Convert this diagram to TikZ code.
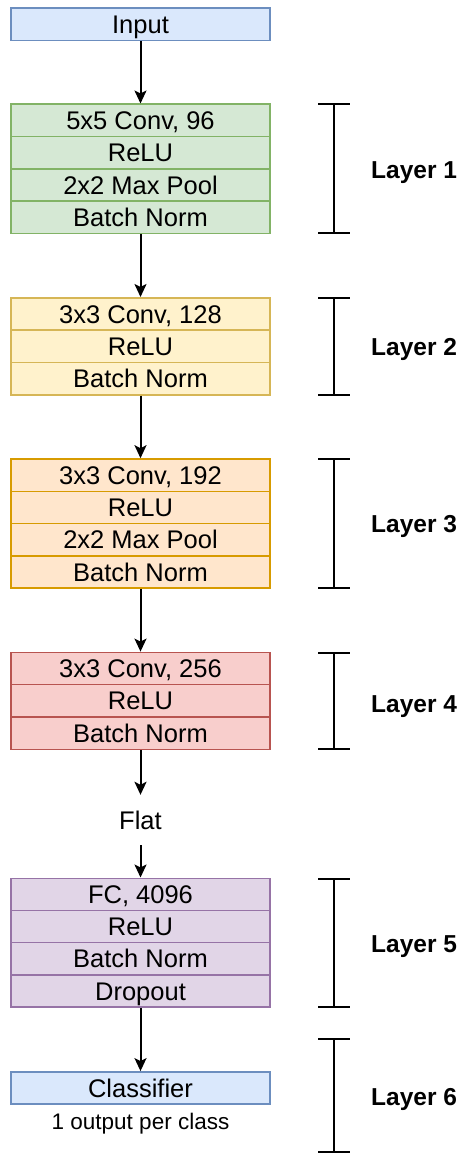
\documentclass[tikz,border=0pt]{standalone}
\usepackage{fontspec}
\setmainfont{Liberation Sans}
\usetikzlibrary{arrows.meta}
\definecolor{bluef}{HTML}{DAE8FC}\definecolor{blued}{HTML}{6C8EBF}
\definecolor{greenf}{HTML}{D5E8D4}\definecolor{greend}{HTML}{82B366}
\definecolor{yellowf}{HTML}{FFF2CC}\definecolor{yellowd}{HTML}{D6B656}
\definecolor{orangef}{HTML}{FFE6CC}\definecolor{oranged}{HTML}{D79B00}
\definecolor{redf}{HTML}{F8CECC}\definecolor{redd}{HTML}{B85450}
\definecolor{purplef}{HTML}{E1D5E7}\definecolor{purpled}{HTML}{9673A6}
\tikzset{
  txt/.style={font=\fontsize{25.5}{30}\selectfont, text height=18.2pt, text depth=0pt, inner sep=0pt},
  row/.style={txt, draw, line width=1.5pt, minimum width=259pt, minimum height=32.3pt},
  bluerow/.style={row, fill=bluef, draw=blued},
  greenrow/.style={row, fill=greenf, draw=greend},
  yellowrow/.style={row, fill=yellowf, draw=yellowd},
  orangerow/.style={row, fill=orangef, draw=oranged},
  redrow/.style={row, fill=redf, draw=redd},
  purplerow/.style={row, fill=purplef, draw=purpled},
  flow/.style={line width=2pt, -{Stealth[length=13pt,width=12pt,inset=3pt]}},
  brk/.style={line width=2pt},
  lay/.style={font=\fontsize{24.5}{29}\selectfont\bfseries, text height=17.6pt, text depth=0pt, inner sep=0pt, anchor=west},
}
\begin{document}
\begin{tikzpicture}[x=1pt,y=-1pt]
\useasboundingbox (0,0) rectangle (462,1153);
% nodes
\node[bluerow] (in) at (140.5,24.3) {Input};
\node[greenrow] (l1a) at (140.5,120.4) {5x5 Conv, 96};
\node[greenrow] (l1b) at (140.5,152.7) {ReLU};
\node[greenrow] (l1c) at (140.5,184.9) {2x2 Max Pool};
\node[greenrow] (l1d) at (140.5,217.2) {Batch Norm};
\node[yellowrow] (l2a) at (140.5,313.9) {3x3 Conv, 128};
\node[yellowrow] (l2b) at (140.5,346.3) {ReLU};
\node[yellowrow] (l2c) at (140.5,378.8) {Batch Norm};
\node[orangerow] (l3a) at (140.5,475.1) {3x3 Conv, 192};
\node[orangerow] (l3b) at (140.5,507.4) {ReLU};
\node[orangerow] (l3c) at (140.5,539.6) {2x2 Max Pool};
\node[orangerow] (l3d) at (140.5,571.9) {Batch Norm};
\node[redrow] (l4a) at (140.5,668.5) {3x3 Conv, 256};
\node[redrow] (l4b) at (140.5,700.8) {ReLU};
\node[redrow] (l4c) at (140.5,733.2) {Batch Norm};
\node[txt, minimum height=50pt] (flat) at (140.5,820) {Flat};
\node[purplerow] (l5a) at (140.5,894.4) {FC, 4096};
\node[purplerow] (l5b) at (140.5,926.6) {ReLU};
\node[purplerow] (l5c) at (140.5,958.8) {Batch Norm};
\node[purplerow] (l5d) at (140.5,990.9) {Dropout};
\node[bluerow] (cls) at (140.5,1088) {Classifier};
\node[txt, font=\fontsize{22.5}{27}\selectfont, text height=16pt] (outp) at (140.5,1121.7) {1 output per class};
% arrows
\draw[flow] (in.south) -- (l1a.north);
\draw[flow] (l1d.south) -- (l2a.north);
\draw[flow] (l2c.south) -- (l3a.north);
\draw[flow] (l3d.south) -- (l4a.north);
\draw[flow] (l4c.south) -- (flat.north);
\draw[flow] (flat.south) -- (l5a.north);
\draw[flow] (l5d.south) -- (cls.north);
% brackets and labels
\foreach \t/\b/\c/\n in {104.5/233.2/170/1, 298/394.8/346.7/2, 459.2/587.8/523.3/3, 652.5/749.2/703.3/4, 878.5/1006.8/943.3/5, 1039/1152/1096.7/6}{
  \coordinate (bt\n) at (334,\t);
  \coordinate (bb\n) at (334,\b);
  \draw[brk] ([xshift=-16pt]bt\n) -- ([xshift=16pt]bt\n);
  \draw[brk] ([xshift=-16pt]bb\n) -- ([xshift=16pt]bb\n);
  \draw[brk] (bt\n) -- (bb\n);
  \node[lay] (lab\n) at (371,\c) {Layer \n};
}
\end{tikzpicture}
\end{document}
